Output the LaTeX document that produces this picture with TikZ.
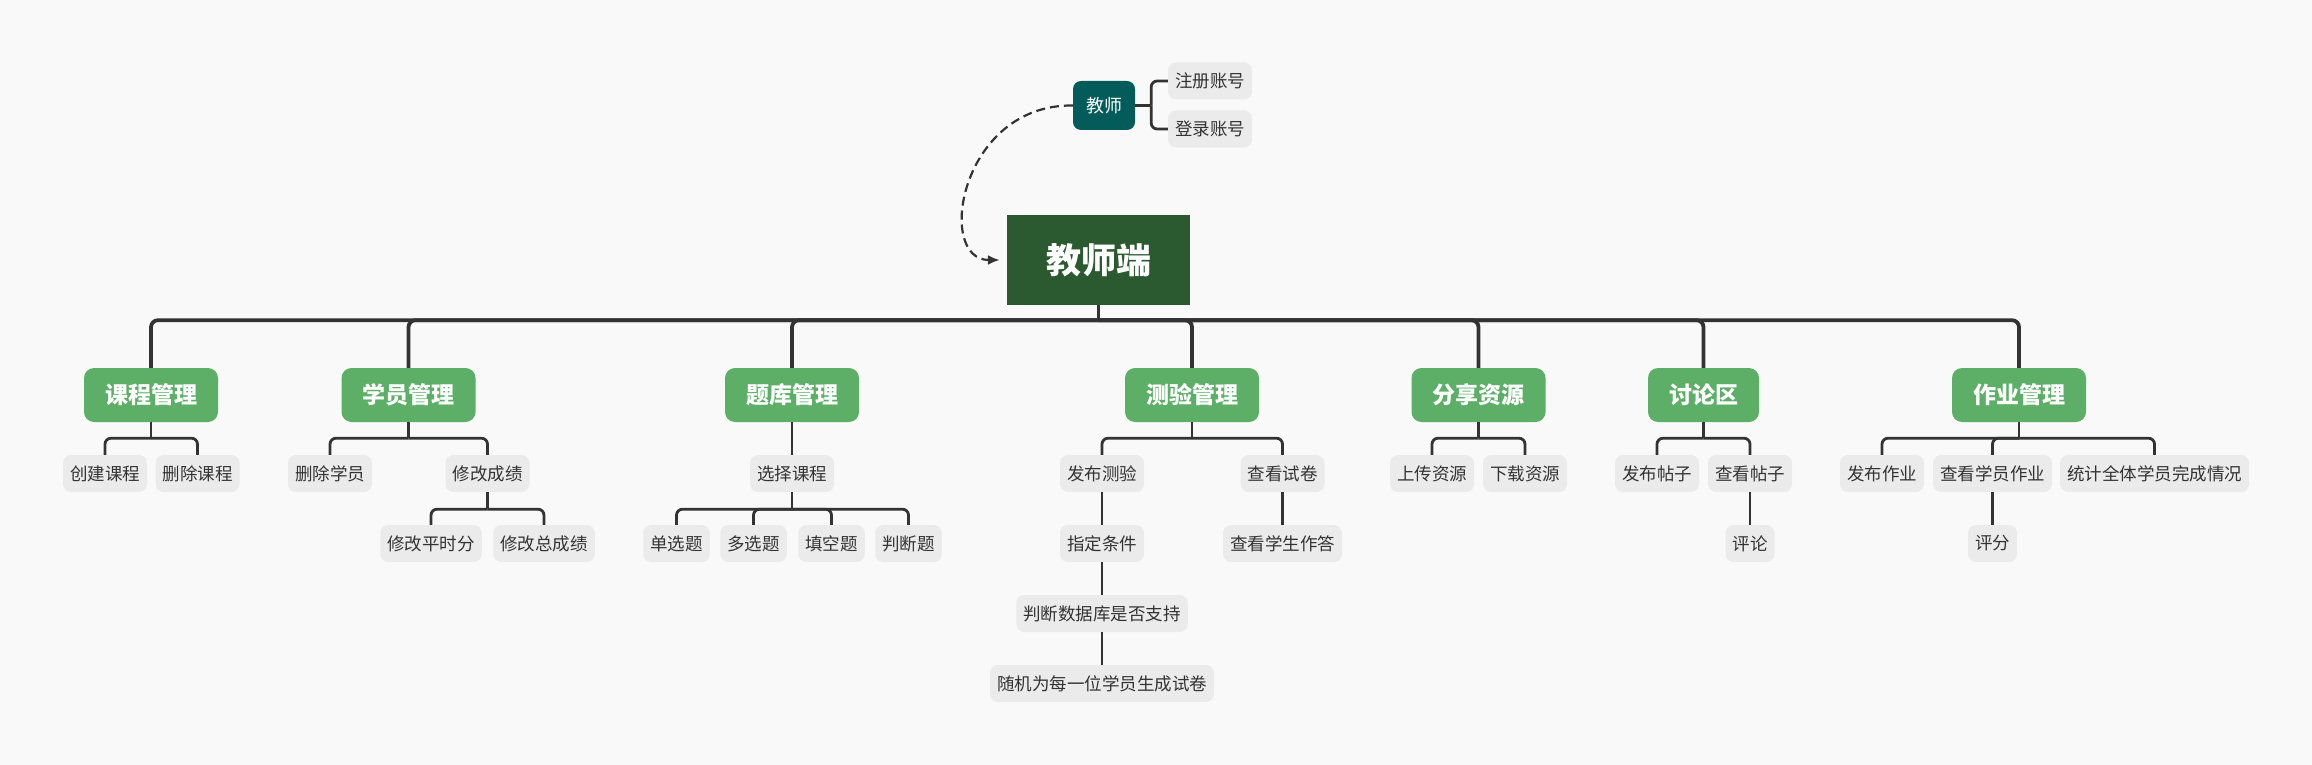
\documentclass[tikz,border=0pt]{standalone}
\usepackage{fontspec}
\setmainfont{Noto Sans CJK SC}
\usetikzlibrary{arrows.meta,calc}
\definecolor{bgc}{HTML}{F9F9F9}
\definecolor{leaffill}{HTML}{EBEBEB}
\definecolor{branchfill}{HTML}{5DAF68}
\definecolor{rootfill}{HTML}{2B5A30}
\definecolor{tealbox}{HTML}{035B5A}
\definecolor{linec}{HTML}{333333}
\begin{document}
\begin{tikzpicture}[x=1pt,y=-1pt,
  leaf/.style={fill=leaffill, rounded corners=8pt, minimum height=37pt, inner xsep=7pt, inner ysep=0pt,
    text=linec, font=\fontsize{17.5}{20}\selectfont},
  branch/.style={fill=branchfill, rounded corners=10pt, minimum height=54pt, inner xsep=21pt, inner ysep=0pt,
    text=white, font=\fontsize{23}{27}\selectfont\bfseries},
  rootbox/.style={fill=rootfill, minimum height=90pt, minimum width=183pt, inner sep=0pt,
    text=white, font=\fontsize{35}{40}\selectfont\bfseries},
  tbox/.style={fill=tealbox, rounded corners=8pt, minimum height=49pt, minimum width=62pt, inner sep=0pt,
    text=white, font=\fontsize{18}{22}\selectfont},
  bus/.style={draw=linec, line width=3.8pt, rounded corners=7pt},
  conn/.style={draw=linec, line width=2.8pt, rounded corners=6pt},
]
\fill[bgc] (0,0) rectangle (2312,765);

% root and teacher
\node[rootbox] (root) at (1098.5,260) {教师端};
\node[tbox] (teacher) at (1104,105.5) {教师};
\node[leaf] (reg) at (1210,81) {注册账号};
\node[leaf] (login) at (1210,129) {登录账号};
\coordinate (tj) at ($(teacher.east)+(16,0)$);
\draw[conn] (teacher.east) -- (tj);
\draw[conn] (tj) |- (reg.west);
\draw[conn] (tj) |- (login.west);
\draw[draw=linec, line width=2.2pt, dash pattern=on 9pt off 5pt, -{Latex[length=12pt,width=10pt]}, shorten >=7pt]
  (teacher.west) .. controls (960,104) and (935,260) .. (root.west);

% branches
\node[branch] (b1) at (151,395) {课程管理};
\node[branch] (b2) at (408.5,395) {学员管理};
\node[branch] (b3) at (792,395) {题库管理};
\node[branch] (b4) at (1192,395) {测验管理};
\node[branch] (b5) at (1478.5,395) {分享资源};
\node[branch] (b6) at (1703.5,395) {讨论区};
\node[branch] (b7) at (2019,395) {作业管理};

\coordinate (rj) at ($(root.south)+(0,15)$);
\draw[bus, rounded corners=0pt] (root.south) -- (rj);
\foreach \b in {b1,b2,b3,b4,b5,b6,b7}{
  \draw[bus] (rj) -| (\b.north);
}

% level 2 leaves
\node[leaf] (l11) at (105,473.5) {创建课程};
\node[leaf] (l12) at (197.5,473.5) {删除课程};
\node[leaf] (l21) at (330,473.5) {删除学员};
\node[leaf] (l22) at (487.5,473.5) {修改成绩};
\node[leaf] (l31) at (792,473.5) {选择课程};
\node[leaf] (l41) at (1102,473.5) {发布测验};
\node[leaf] (l42) at (1282.5,473.5) {查看试卷};
\node[leaf] (l51) at (1432,473.5) {上传资源};
\node[leaf] (l52) at (1525,473.5) {下载资源};
\node[leaf] (l61) at (1657,473.5) {发布帖子};
\node[leaf] (l62) at (1750,473.5) {查看帖子};
\node[leaf] (l71) at (1882,473.5) {发布作业};
\node[leaf] (l72) at (1992.5,473.5) {查看学员作业};
\node[leaf] (l73) at (2154.5,473.5) {统计全体学员完成情况};

% level 3 leaves
\node[leaf] (m1) at (431,543.5) {修改平时分};
\node[leaf] (m2) at (544,543.5) {修改总成绩};
\node[leaf] (m3) at (676.5,543.5) {单选题};
\node[leaf] (m4) at (753.5,543.5) {多选题};
\node[leaf] (m5) at (831.5,543.5) {填空题};
\node[leaf] (m6) at (908.5,543.5) {判断题};
\node[leaf] (m7) at (1102,543.5) {指定条件};
\node[leaf] (m8) at (1282.5,543.5) {查看学生作答};
\node[leaf] (m9) at (1750,543.5) {评论};
\node[leaf] (m10) at (1992.5,543.5) {评分};

% level 4/5
\node[leaf] (n1) at (1102,613.5) {判断数据库是否支持};
\node[leaf] (n2) at (1102,683.5) {随机为每一位学员生成试卷};

% branch -> leaves with junctions
\foreach \p/\kids in {b1/{l11,l12}, b2/{l21,l22}, b4/{l41,l42}, b5/{l51,l52}, b6/{l61,l62}, b7/{l71,l72,l73}}{
  \coordinate (j) at ($(\p.south)+(0,16)$);
  \draw[conn, rounded corners=0pt] (\p.south) -- (j);
  \foreach \k in \kids { \draw[conn] (j) -| (\k.north); }
}
\foreach \p/\kids in {l22/{m1,m2}, l31/{m3,m4,m5,m6}}{
  \coordinate (j) at ($(\p.south)+(0,17)$);
  \draw[conn, rounded corners=0pt] (\p.south) -- (j);
  \foreach \k in \kids { \draw[conn] (j) -| (\k.north); }
}
% straight chains
\draw[conn] (b3.south) -- (l31.north);
\draw[conn] (l41.south) -- (m7.north);
\draw[conn] (m7.south) -- (n1.north);
\draw[conn] (n1.south) -- (n2.north);
\draw[conn] (l42.south) -- (m8.north);
\draw[conn] (l62.south) -- (m9.north);
\draw[conn] (l72.south) -- (m10.north);
\end{tikzpicture}
\end{document}
